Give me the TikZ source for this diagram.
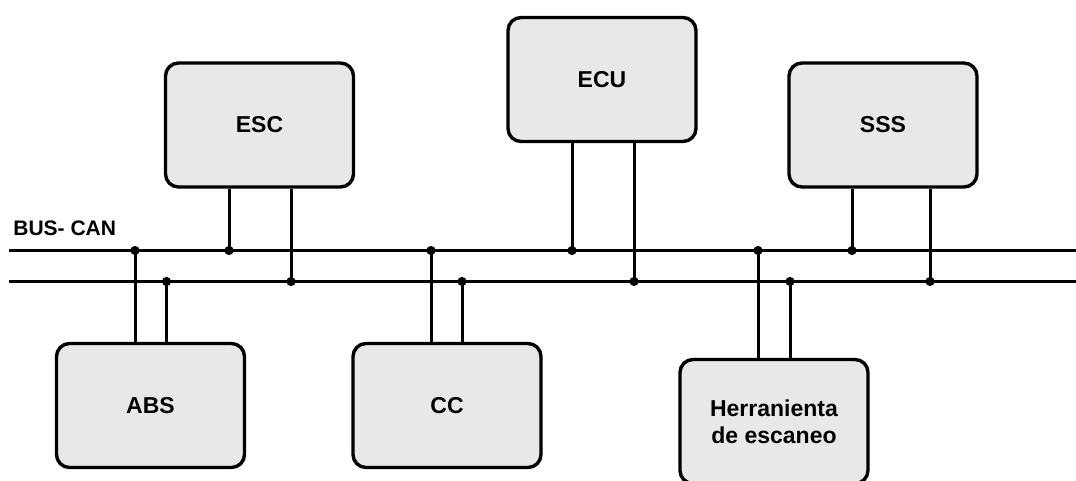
\documentclass[tikz,border=0pt]{standalone}
\usepackage{fontspec}
\setmainfont{Liberation Sans}
\begin{document}
\begin{tikzpicture}[x=0.5pt,y=-0.5pt,
  unit/.style={draw=black, line width=1.7pt, fill=boxgray, rounded corners=6.5pt,
    minimum width=94pt, minimum height=62pt, inner sep=0pt, align=center,
    font=\fontsize{11.5}{13.5}\selectfont\bfseries},
  wire/.style={line width=1.5pt},
  tap/.style={fill=black, circle, inner sep=0pt, minimum size=4.6pt}]
\definecolor{boxgray}{HTML}{E8E8E8}
\useasboundingbox (0,0) rectangle (1076,481);
\clip (0,0) rectangle (1076,481);

% control units
\node[unit] (esc) at (259.5,125) {ESC};
\node[unit] (ecu) at (602,79.5) {ECU};
\node[unit] (sss) at (883,125) {SSS};
\node[unit] (abs) at (150.5,405.5) {ABS};
\node[unit] (cc)  at (447,405.5) {CC};
\node[unit] (scan) at (774,421.5) {Herranienta\\de escaneo};

% bus label and the two bus wires
\node[anchor=base west, inner sep=0pt, font=\fontsize{10.5}{12}\selectfont\bfseries] (lbl) at (13,235) {BUS- CAN};
\coordinate (hiL) at (9,250.5);  \coordinate (hiR) at (1076,250.5);
\coordinate (loL) at (9,281.5);  \coordinate (loR) at (1076,281.5);
\draw[wire] (hiL) -- (hiR);
\draw[wire] (loL) -- (loR);

% junction points on the bus
\coordinate (absH) at (135,250.5);   \coordinate (absL) at (166.5,281.5);
\coordinate (escH) at (229,250.5);   \coordinate (escL) at (291,281.5);
\coordinate (ccH)  at (431,250.5);   \coordinate (ccL)  at (462,281.5);
\coordinate (ecuH) at (572,250.5);   \coordinate (ecuL) at (634,281.5);
\coordinate (scanH) at (758,250.5);  \coordinate (scanL) at (790,281.5);
\coordinate (sssH) at (852,250.5);   \coordinate (sssL) at (930,281.5);

% stubs from each unit to the bus
\foreach \u in {esc,ecu,sss}{
  \draw[wire] (\u H |- \u.south) -- (\u H);
  \draw[wire] (\u L |- \u.south) -- (\u L);
}
\foreach \u in {abs,cc,scan}{
  \draw[wire] (\u H |- \u.north) -- (\u H);
  \draw[wire] (\u L |- \u.north) -- (\u L);
}

% connection dots
\foreach \p in {absH,absL,escH,escL,ccH,ccL,ecuH,ecuL,scanH,scanL,sssH,sssL}
  \node[tap] at (\p) {};
\end{tikzpicture}
\end{document}
